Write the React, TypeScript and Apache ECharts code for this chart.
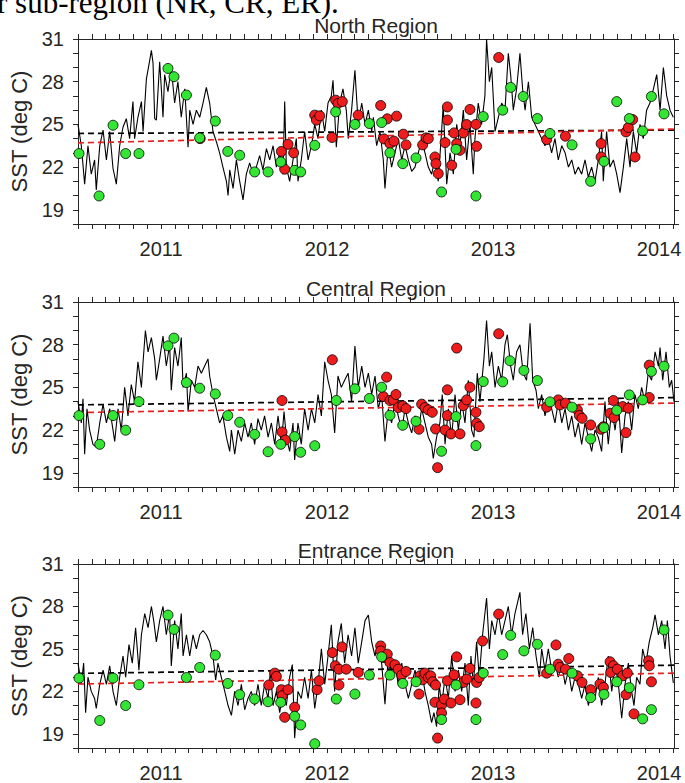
import React, { useEffect, useRef } from 'react';
import * as echarts from 'echarts';

type Pt = [number, number];

const yearLabels = [2011, 2012, 2013, 2014];
const sstLabels = [19, 22, 25, 28, 31];
const panelTitles = ['North Region', 'Central Region', 'Entrance Region'];
const yAxisTitle = 'SST (deg C)';
const captionText = 'r sub-region (NR, CR, ER).';

// ---------- North Region ----------
const northLine: Pt[] = [
  [2010.500,25.0],[2010.520,23.5],[2010.540,20.8],[2010.560,23.5],[2010.580,21.5],[2010.600,22.5],[2010.610,20.4],[2010.631,23.5],[2010.651,24.6],[2010.671,22.5],[2010.691,24.5],[2010.711,21.9],[2010.731,20.8],[2010.751,23.5],[2010.771,24.8],[2010.791,25.4],[2010.811,24.0],[2010.831,26.6],[2010.841,24.0],[2010.861,25.5],[2010.882,26.6],[2010.892,24.5],[2010.912,28.2],[2010.932,29.5],[2010.942,30.2],[2010.952,29.3],[2010.962,25.4],[2010.972,25.3],[2010.992,29.4],[2011.002,27.5],[2011.012,25.5],[2011.022,28.5],[2011.042,27.3],[2011.062,29.0],[2011.082,26.5],[2011.102,28.0],[2011.122,25.5],[2011.143,27.5],[2011.163,23.4],[2011.173,26.0],[2011.193,25.0],[2011.213,26.0],[2011.233,25.5],[2011.253,26.5],[2011.273,27.6],[2011.293,26.5],[2011.313,24.5],[2011.333,23.8],[2011.353,23.0],[2011.373,22.0],[2011.394,21.0],[2011.404,20.0],[2011.414,21.8],[2011.434,20.5],[2011.454,22.5],[2011.474,21.0],[2011.494,19.7],[2011.514,21.5],[2011.534,22.3],[2011.554,21.5],[2011.574,22.0],[2011.594,22.8],[2011.614,21.8],[2011.635,23.3],[2011.655,22.5],[2011.675,23.5],[2011.695,22.0],[2011.715,23.0],[2011.735,21.5],[2011.745,26.6],[2011.755,22.0],[2011.775,21.0],[2011.795,22.5],[2011.815,24.0],[2011.825,21.0],[2011.845,22.5],[2011.865,24.5],[2011.886,22.5],[2011.906,23.5],[2011.926,25.0],[2011.946,24.0],[2011.966,26.0],[2011.986,24.5],[2012.006,26.5],[2012.026,27.0],[2012.036,28.1],[2012.056,23.4],[2012.076,26.5],[2012.096,27.5],[2012.116,26.0],
  [2012.128,24.0],[2012.148,26.0],[2012.168,28.8],[2012.188,25.0],[2012.209,26.5],[2012.229,25.0],[2012.249,26.0],[2012.269,24.5],[2012.279,25.5],[2012.299,23.5],[2012.319,24.5],[2012.339,22.5],[2012.349,20.5],[2012.369,23.5],[2012.389,22.0],[2012.409,23.0],[2012.429,24.0],[2012.450,22.5],[2012.470,23.5],[2012.490,22.5],[2012.510,21.7],[2012.530,22.0],[2012.550,23.0],[2012.570,24.0],[2012.590,23.0],[2012.610,22.0],[2012.630,21.5],[2012.650,22.5],[2012.670,21.0],[2012.690,24.5],[2012.700,26.3],[2012.721,20.8],[2012.741,23.0],[2012.761,21.5],[2012.781,25.0],[2012.801,23.5],[2012.821,26.0],[2012.841,22.5],[2012.861,25.0],[2012.881,21.5],[2012.891,24.0],[2012.911,26.5],[2012.931,25.0],[2012.951,27.0],[2012.961,31.0],[2012.978,28.0],[2012.992,29.0],[2013.012,24.5],[2013.032,25.5],[2013.052,26.5],[2013.072,26.0],[2013.092,30.0],[2013.106,28.5],[2013.122,26.0],[2013.142,27.5],[2013.162,30.0],[2013.178,27.5],[2013.193,26.0],[2013.213,28.0],[2013.233,25.5],[2013.253,25.0],[2013.273,24.5],[2013.293,24.0],[2013.313,23.5],[2013.333,24.0],[2013.353,23.0],[2013.373,24.0],[2013.393,22.5],[2013.414,23.5],[2013.434,23.0],[2013.454,22.0],[2013.474,22.5],[2013.494,21.5],[2013.514,22.0],[2013.534,21.5],[2013.554,22.5],[2013.574,21.3],[2013.594,22.0],[2013.614,21.0],[2013.634,22.5],[2013.654,24.5],[2013.664,21.0],[2013.684,24.5],[2013.704,22.0],[2013.725,22.5],[2013.745,21.5],[2013.765,20.2],[2013.785,22.0],[2013.805,24.0],[2013.825,22.0],[2013.845,24.5],[2013.865,23.0],[2013.885,25.0],[2013.905,24.0],[2013.925,26.0],[2013.945,26.5],[2013.966,27.5],[2013.986,28.5],[2014.006,26.0],[2014.026,29.0],[2014.046,27.0],[2014.066,26.0],[2014.086,25.5]
];
const northGreen: Pt[] = [
  [2010.506,22.95],[2010.627,19.97],[2010.711,24.94],[2010.787,22.95],[2010.867,22.95],[2011.042,28.93],[2011.078,28.35],[2011.153,27.06],[2011.233,24.05],[2011.327,25.23],[2011.402,23.1],[2011.474,22.83],[2011.564,21.66],[2011.645,21.66],[2011.721,22.36],[2011.805,21.77],[2011.841,21.66],[2011.926,23.53],[2012.052,25.88],
  [2012.168,25.0],[2012.255,25.06],[2012.329,25.13],[2012.379,23.0],[2012.456,22.24],[2012.536,22.64],[2012.690,20.25],[2012.777,23.25],[2012.897,19.97],[2012.941,25.55],[2013.058,26.0],[2013.106,27.6],[2013.182,26.96],[2013.267,25.41],[2013.343,24.36],[2013.476,23.56],[2013.588,21.0],[2013.668,22.4],[2013.745,26.6],[2013.821,25.41],[2013.901,24.54],[2013.954,26.96],[2014.030,25.74]
];
const northRed: Pt[] = [
  [2011.236,24.0],[2011.725,23.1],[2011.745,21.85],[2011.765,23.6],[2011.799,23.0],[2011.926,25.65],[2011.936,25.3],[2011.956,25.6],[2012.030,24.08],[2012.052,26.7],[2012.066,26.47],[2012.092,26.6],
  [2012.188,25.65],[2012.323,26.33],[2012.343,23.98],[2012.363,25.39],[2012.379,23.65],[2012.403,23.82],[2012.419,25.58],[2012.460,24.31],[2012.476,23.56],[2012.576,23.56],[2012.596,24.05],[2012.610,24.0],[2012.650,22.71],[2012.656,22.24],[2012.670,21.54],[2012.711,23.72],[2012.725,26.23],[2012.725,25.3],[2012.751,22.13],[2012.765,24.4],[2012.781,23.65],[2012.801,23.18],[2012.821,24.4],[2012.841,24.99],[2012.861,26.05],[2012.897,25.0],[2012.901,23.46],[2013.034,29.7],[2013.323,23.93],[2013.436,24.17],[2013.651,23.65],[2013.651,22.71],[2013.801,24.47],[2013.815,24.78],[2013.841,25.34],[2013.855,22.71]
];
const northTrendAll: Pt[] = [[2010.5, 24.36], [2014.09, 24.6]];
const northTrendRed: Pt[] = [[2010.5, 23.7], [2014.09, 24.67]];

// ---------- Central Region ----------
const centralLine: Pt[] = [
  [2010.500,24.0],[2010.520,22.5],[2010.530,24.2],[2010.540,20.3],[2010.554,23.5],[2010.570,22.0],[2010.590,21.0],[2010.610,20.8],[2010.631,22.5],[2010.651,23.8],[2010.671,22.5],[2010.691,23.5],[2010.711,22.0],[2010.721,21.2],[2010.741,23.5],[2010.761,22.0],[2010.781,25.0],[2010.801,23.0],[2010.821,25.2],[2010.841,24.0],[2010.861,26.8],[2010.882,25.0],[2010.892,26.8],[2010.906,29.0],[2010.922,27.5],[2010.942,28.5],[2010.962,27.0],[2010.972,25.5],[2010.992,27.0],[2011.012,28.6],[2011.032,26.5],[2011.052,28.0],[2011.062,24.8],[2011.082,27.8],[2011.102,26.5],[2011.122,28.5],[2011.133,25.0],[2011.153,26.0],[2011.163,23.3],[2011.183,25.5],[2011.203,25.0],[2011.223,26.5],[2011.243,26.0],[2011.263,26.5],[2011.283,27.0],[2011.293,25.8],[2011.313,24.5],[2011.333,23.5],[2011.353,22.5],[2011.373,23.0],[2011.394,21.5],[2011.414,20.5],[2011.424,22.0],[2011.444,20.3],[2011.464,22.0],[2011.484,21.2],[2011.504,22.5],[2011.524,21.5],[2011.544,22.5],[2011.564,21.0],[2011.584,22.8],[2011.604,22.0],[2011.624,23.0],[2011.645,21.5],[2011.665,22.5],[2011.685,21.0],[2011.705,23.0],[2011.725,21.0],[2011.741,23.3],[2011.755,21.5],[2011.775,20.5],[2011.795,22.5],[2011.805,19.9],[2011.825,22.5],[2011.845,21.0],[2011.865,23.5],[2011.886,22.0],[2011.906,23.5],[2011.926,22.5],[2011.946,24.5],[2011.966,23.0],[2011.986,26.8],[2012.006,25.5],[2012.026,24.5],[2012.046,21.8],[2012.066,25.8],[2012.086,25.0],[2012.106,25.5],[2012.127,26.0],
  [2012.148,24.0],[2012.168,27.9],[2012.188,25.0],[2012.209,26.5],[2012.229,25.0],[2012.249,26.0],[2012.269,24.5],[2012.289,25.8],[2012.309,23.5],[2012.329,24.5],[2012.349,21.2],[2012.369,23.5],[2012.389,22.5],[2012.409,24.0],[2012.429,23.0],[2012.450,22.0],[2012.470,23.5],[2012.490,22.5],[2012.510,21.8],[2012.530,23.0],[2012.550,22.0],[2012.570,23.5],[2012.590,22.5],[2012.610,21.5],[2012.630,21.0],[2012.640,20.0],[2012.660,21.5],[2012.680,22.5],[2012.694,24.5],[2012.711,21.0],[2012.731,23.5],[2012.751,21.5],[2012.771,24.5],[2012.791,22.0],[2012.811,24.0],[2012.831,22.5],[2012.851,25.5],[2012.871,22.0],[2012.885,21.5],[2012.905,26.0],[2012.921,24.0],[2012.945,27.0],[2012.961,29.7],[2012.978,26.5],[2012.992,27.5],[2013.012,25.0],[2013.032,26.5],[2013.052,25.5],[2013.072,28.0],[2013.086,28.7],[2013.106,26.5],[2013.122,25.5],[2013.142,27.5],[2013.162,28.0],[2013.182,26.0],[2013.202,25.5],[2013.223,29.5],[2013.239,25.5],[2013.259,24.8],[2013.273,23.5],[2013.293,24.5],[2013.313,23.0],[2013.333,24.0],[2013.353,23.5],[2013.373,22.5],[2013.393,24.0],[2013.414,22.5],[2013.434,23.5],[2013.454,22.0],[2013.474,23.0],[2013.494,21.5],[2013.514,22.5],[2013.534,21.0],[2013.554,22.5],[2013.574,21.5],[2013.594,20.5],[2013.614,22.0],[2013.634,21.5],[2013.654,20.5],[2013.674,24.0],[2013.694,21.0],[2013.715,23.5],[2013.735,22.0],[2013.755,24.0],[2013.775,20.4],[2013.795,23.0],[2013.815,24.0],[2013.835,22.0],[2013.855,24.5],[2013.875,23.5],[2013.895,25.0],[2013.915,24.0],[2013.935,26.0],[2013.955,25.5],[2013.976,27.5],[2013.996,26.5],[2014.006,27.8],[2014.022,25.5],[2014.042,27.5],[2014.062,25.0],[2014.076,25.5],[2014.090,24.0]
];
const centralGreen: Pt[] = [
  [2010.506,23.02],[2010.631,21.0],[2010.711,23.02],[2010.787,21.99],[2010.867,24.0],[2011.042,27.92],[2011.078,28.46],[2011.153,25.34],[2011.233,24.94],[2011.327,24.54],[2011.402,23.02],[2011.474,22.55],[2011.564,21.7],[2011.645,20.48],[2011.721,21.0],[2011.805,21.54],[2011.841,20.44],[2011.926,20.9],[2012.056,24.08],
  [2012.168,24.9],[2012.255,24.22],[2012.329,25.01],[2012.379,23.04],[2012.456,22.34],[2012.536,22.62],[2012.690,20.51],[2012.777,22.95],[2012.897,20.91],[2012.941,25.41],[2013.058,25.39],[2013.102,26.87],[2013.186,26.19],[2013.267,25.48],[2013.343,23.98],[2013.476,23.61],[2013.588,21.38],[2013.668,22.17],[2013.745,23.39],[2013.821,24.47],[2013.901,24.12],[2013.954,26.12],[2014.030,26.49]
];
const centralRed: Pt[] = [
  [2011.729,24.08],[2011.729,21.87],[2011.749,21.3],[2012.032,26.94],
  [2012.359,25.72],[2012.339,24.36],[2012.379,24.08],[2012.399,24.12],[2012.415,24.5],[2012.429,23.58],[2012.456,23.7],[2012.476,23.51],[2012.554,22.06],[2012.570,23.82],[2012.590,23.58],[2012.610,23.42],[2012.634,23.25],[2012.654,22.08],[2012.666,19.36],[2012.711,22.0],[2012.725,24.83],[2012.725,23.02],[2012.747,21.73],[2012.781,27.76],[2012.801,21.73],[2012.821,23.72],[2012.841,24.12],[2012.861,25.01],[2012.897,23.25],[2012.901,22.48],[2012.917,22.24],[2013.034,28.77],[2013.323,23.61],[2013.393,24.12],[2013.403,23.77],[2013.436,23.89],[2013.508,23.42],[2013.520,23.02],[2013.536,22.83],[2013.588,22.36],[2013.651,22.06],[2013.665,22.24],[2013.705,23.18],[2013.725,24.08],[2013.729,22.88],[2013.781,23.65],[2013.801,21.82],[2013.815,23.54],[2013.941,26.56],[2013.941,24.29]
];
const centralTrendAll: Pt[] = [[2010.5, 23.77], [2014.09, 24.28]];
const centralTrendRed: Pt[] = [[2010.5, 23.23], [2014.09, 23.9]];

// ---------- Entrance Region ----------
const entranceLine: Pt[] = [
  [2010.500,24.0],[2010.520,22.5],[2010.534,24.0],[2010.546,20.5],[2010.560,23.0],[2010.580,22.0],[2010.600,21.5],[2010.610,20.8],[2010.631,22.5],[2010.651,23.5],[2010.671,22.5],[2010.691,23.8],[2010.711,22.0],[2010.731,21.0],[2010.751,23.0],[2010.771,24.5],[2010.787,23.0],[2010.807,25.3],[2010.827,24.0],[2010.847,26.5],[2010.867,23.5],[2010.882,26.0],[2010.902,27.5],[2010.922,26.5],[2010.942,28.0],[2010.956,27.0],[2010.972,25.5],[2010.992,27.0],[2011.012,28.0],[2011.032,26.0],[2011.052,27.5],[2011.062,23.8],[2011.082,27.0],[2011.102,25.0],[2011.122,27.5],[2011.133,24.5],[2011.153,26.0],[2011.173,24.5],[2011.193,26.0],[2011.213,25.0],[2011.233,26.0],[2011.253,26.3],[2011.273,26.0],[2011.293,25.5],[2011.313,24.5],[2011.329,22.8],[2011.343,24.0],[2011.363,23.0],[2011.384,22.0],[2011.404,21.0],[2011.424,20.3],[2011.444,22.0],[2011.464,21.0],[2011.484,22.5],[2011.504,20.7],[2011.524,21.5],[2011.544,22.0],[2011.564,21.0],[2011.584,22.5],[2011.604,21.0],[2011.624,22.5],[2011.645,21.5],[2011.659,23.5],[2011.675,21.0],[2011.695,22.0],[2011.715,20.5],[2011.735,22.0],[2011.755,21.0],[2011.775,23.0],[2011.791,23.9],[2011.805,18.7],[2011.825,22.0],[2011.845,21.5],[2011.865,23.0],[2011.886,21.5],[2011.906,23.5],[2011.926,20.8],[2011.946,22.5],[2011.966,25.0],[2011.986,22.5],[2012.006,24.5],[2012.026,26.7],[2012.046,22.0],[2012.066,25.5],[2012.086,26.8],[2012.106,24.0],[2012.127,26.0],
  [2012.148,24.5],[2012.168,26.5],[2012.188,24.0],[2012.209,25.5],[2012.229,27.0],[2012.249,27.4],[2012.269,25.5],[2012.289,24.5],[2012.309,25.5],[2012.329,24.0],[2012.349,21.1],[2012.369,24.5],[2012.389,23.0],[2012.409,24.0],[2012.429,22.5],[2012.450,24.0],[2012.470,22.5],[2012.490,21.5],[2012.510,22.5],[2012.530,23.5],[2012.550,22.5],[2012.570,23.5],[2012.590,22.0],[2012.610,21.0],[2012.630,19.8],[2012.644,20.5],[2012.660,19.5],[2012.676,22.5],[2012.690,21.0],[2012.711,23.0],[2012.731,21.5],[2012.751,24.5],[2012.771,22.0],[2012.791,23.5],[2012.811,22.0],[2012.831,24.0],[2012.851,21.0],[2012.867,24.5],[2012.881,22.5],[2012.901,25.5],[2012.917,23.0],[2012.937,26.0],[2012.961,28.6],[2012.978,25.0],[2012.992,27.0],[2013.012,26.0],[2013.032,27.5],[2013.052,26.0],[2013.072,27.0],[2013.092,28.0],[2013.112,26.0],[2013.132,27.5],[2013.162,29.0],[2013.178,26.0],[2013.198,27.5],[2013.219,25.0],[2013.239,26.5],[2013.259,24.5],[2013.279,23.0],[2013.293,25.0],[2013.313,23.5],[2013.333,25.0],[2013.353,23.5],[2013.373,24.0],[2013.393,23.0],[2013.414,24.0],[2013.434,22.5],[2013.454,23.5],[2013.474,22.0],[2013.494,23.0],[2013.514,22.5],[2013.534,21.5],[2013.554,22.5],[2013.574,21.0],[2013.594,22.0],[2013.614,21.5],[2013.634,23.0],[2013.654,21.0],[2013.674,22.5],[2013.694,24.5],[2013.715,22.0],[2013.735,24.0],[2013.755,22.5],[2013.775,20.1],[2013.795,22.5],[2013.815,24.0],[2013.835,22.0],[2013.849,21.0],[2013.865,23.0],[2013.885,22.5],[2013.901,25.0],[2013.921,24.0],[2013.941,25.5],[2013.962,26.5],[2013.976,27.4],[2013.996,26.0],[2014.016,27.0],[2014.036,25.0],[2014.050,27.0],[2014.066,24.5],[2014.086,22.6]
];
const entranceGreen: Pt[] = [
  [2010.506,22.94],[2010.631,19.94],[2010.711,22.94],[2010.787,21.0],[2010.867,22.47],[2011.042,27.39],[2011.078,26.38],[2011.153,22.98],[2011.233,23.69],[2011.327,24.56],[2011.402,22.56],[2011.474,21.77],[2011.564,21.46],[2011.645,21.27],[2011.721,21.23],[2011.805,20.24],[2011.841,19.63],[2011.926,18.3],[2012.056,21.46],
  [2012.168,21.81],[2012.255,23.15],[2012.329,24.44],[2012.379,23.15],[2012.456,22.56],[2012.536,22.68],[2012.690,20.01],[2012.777,22.45],[2012.897,20.01],[2012.941,23.29],[2013.058,24.6],[2013.106,25.96],[2013.186,24.86],[2013.267,25.33],[2013.343,23.57],[2013.476,23.29],[2013.588,21.56],[2013.668,21.79],[2013.745,22.68],[2013.821,22.26],[2013.901,20.06],[2013.954,20.71],[2014.030,26.34]
];
const entranceRed: Pt[] = [
  [2011.649,22.45],[2011.685,23.29],[2011.695,23.06],[2011.725,22.12],[2011.731,21.7],[2011.745,20.17],[2011.765,22.12],[2011.805,20.88],[2011.940,22.12],[2011.952,22.75],[2012.032,24.74],[2012.050,23.81],[2012.072,23.57],[2012.072,22.45],[2012.090,25.14],[2012.116,23.57],
  [2012.188,23.34],[2012.323,25.21],[2012.323,24.86],[2012.343,24.39],[2012.363,24.63],[2012.379,24.04],[2012.409,23.88],[2012.429,23.57],[2012.450,23.15],[2012.476,23.41],[2012.554,21.81],[2012.560,23.1],[2012.576,22.82],[2012.590,23.29],[2012.610,22.98],[2012.624,23.1],[2012.636,22.68],[2012.654,22.45],[2012.650,21.23],[2012.690,21.04],[2012.690,20.48],[2012.666,18.7],[2012.707,21.46],[2012.725,22.75],[2012.747,21.18],[2012.765,23.17],[2012.781,24.44],[2012.801,21.41],[2012.821,22.63],[2012.841,22.87],[2012.861,23.62],[2012.897,21.18],[2012.901,22.63],[2012.917,22.98],[2012.937,25.56],[2013.034,27.46],[2013.323,23.29],[2013.379,25.28],[2013.393,23.92],[2013.403,23.69],[2013.436,23.57],[2013.456,24.32],[2013.508,23.1],[2013.536,22.63],[2013.588,22.12],[2013.644,22.52],[2013.665,22.28],[2013.705,24.09],[2013.725,23.81],[2013.709,23.34],[2013.749,23.57],[2013.781,23.1],[2013.809,23.29],[2013.801,21.77],[2013.849,20.41],[2013.937,24.16],[2013.941,23.81],[2013.954,22.68]
];
const entranceTrendAll: Pt[] = [[2010.5, 23.27], [2014.09, 23.85]];
const entranceTrendRed: Pt[] = [[2010.5, 22.52], [2014.09, 23.29]];

const panels = [
  { line: northLine, green: northGreen, red: northRed, trendAll: northTrendAll, trendRed: northTrendRed },
  { line: centralLine, green: centralGreen, red: centralRed, trendAll: centralTrendAll, trendRed: centralTrendRed },
  { line: entranceLine, green: entranceGreen, red: entranceRed, trendAll: entranceTrendAll, trendRed: entranceTrendRed },
];

const X_MIN = 2010.5;
const X_MAX = 2014.09;
const Y_MIN = 18;
const Y_MAX = 31;
const GRID_TOPS = [39, 302, 564];
const GRID_LEFT = 78;
const GRID_W = 596;
const GRID_H = 185;
const TEXT = '#262626';
const FONT = 'Liberation Sans, Arial, Helvetica, sans-serif';

export default function App() {
  const ref = useRef<HTMLDivElement>(null);
  useEffect(() => {
    if (!ref.current) return;
    const chart = echarts.init(ref.current, undefined, { renderer: 'svg' });
    const monthTicks: number[] = [];
    for (let k = 0; k * (1 / 12) + X_MIN <= X_MAX + 1e-9; k++) monthTicks.push(X_MIN + k / 12);
    const yTicks: number[] = [];
    for (let v = Y_MIN; v <= Y_MAX; v++) yTicks.push(v);

    const axisLine = { show: true, onZero: false, lineStyle: { color: TEXT, width: 1 } };
    const grids: any[] = [];
    const xAxes: any[] = [];
    const yAxes: any[] = [];
    const series: any[] = [];
    const graphics: any[] = [];

    panels.forEach((p, i) => {
      grids.push({ left: GRID_LEFT, top: GRID_TOPS[i], width: GRID_W, height: GRID_H, containLabel: false });
      const xBase = {
        type: 'value', gridIndex: i, min: X_MIN, max: X_MAX, axisLine,
        splitLine: { show: false },
        axisTick: { show: true, inside: false, length: 5, customValues: monthTicks, lineStyle: { color: TEXT, width: 1 } },
      };
      xAxes.push({ ...xBase, position: 'bottom',
        axisLabel: { show: true, customValues: yearLabels, margin: 15, fontSize: 20, color: TEXT, fontFamily: FONT, formatter: (v: number) => String(Math.round(v)) } });
      xAxes.push({ ...xBase, position: 'top', axisLabel: { show: false } });
      const yBase = {
        type: 'value', gridIndex: i, min: Y_MIN, max: Y_MAX, interval: 1, axisLine,
        splitLine: { show: false },
        axisTick: { show: true, inside: false, length: 5, customValues: yTicks, lineStyle: { color: TEXT, width: 1 } },
      };
      yAxes.push({ ...yBase, position: 'left',
        axisLabel: { show: true, customValues: sstLabels, margin: 14, fontSize: 20, color: TEXT, fontFamily: FONT },
        name: yAxisTitle, nameLocation: 'middle', nameGap: 41, nameRotate: 90,
        nameTextStyle: { fontSize: 22, color: TEXT, fontFamily: FONT } });
      yAxes.push({ ...yBase, position: 'right', axisLabel: { show: false } });

      const xi = i * 2, yi = i * 2;
      series.push({ type: 'line', xAxisIndex: xi, yAxisIndex: yi, data: p.line, showSymbol: false, symbol: 'none',
        lineStyle: { color: '#000', width: 1.1 }, z: 2, silent: true });
      series.push({ type: 'line', xAxisIndex: xi, yAxisIndex: yi, data: p.trendAll, showSymbol: false, symbol: 'none',
        lineStyle: { color: '#000', width: 1.7, type: [6, 4] }, z: 3, silent: true });
      series.push({ type: 'line', xAxisIndex: xi, yAxisIndex: yi, data: p.trendRed, showSymbol: false, symbol: 'none',
        lineStyle: { color: '#e8201c', width: 1.7, type: [6, 4] }, z: 3, silent: true });
      series.push({ type: 'scatter', xAxisIndex: xi, yAxisIndex: yi, data: p.red, symbol: 'circle', symbolSize: 10,
        itemStyle: { color: '#ee1c1c', borderColor: '#000', borderWidth: 0.8, opacity: 1 }, z: 4, silent: true });
      series.push({ type: 'scatter', xAxisIndex: xi, yAxisIndex: yi, data: p.green, symbol: 'circle', symbolSize: 10,
        itemStyle: { color: '#33e633', borderColor: '#000', borderWidth: 0.8, opacity: 1 }, z: 5, silent: true });

      graphics.push({ type: 'text', x: GRID_LEFT + GRID_W / 2, y: GRID_TOPS[i] - 3, z: 10,
        style: { text: panelTitles[i], font: `21px ${FONT}`, fill: TEXT,
          align: 'center', verticalAlign: 'bottom', textAlign: 'center', textVerticalAlign: 'bottom' } });
    });

    graphics.push({ type: 'text', x: -3, y: 2, z: 10,
      style: { text: captionText, font: '31px "Liberation Serif", "Times New Roman", serif', fill: '#000',
        align: 'left', verticalAlign: 'middle', textAlign: 'left', textVerticalAlign: 'middle' } });

    chart.setOption({
      animation: false,
      backgroundColor: '#fff',
      grid: grids,
      xAxis: xAxes,
      yAxis: yAxes,
      series,
      graphic: graphics,
    });
    return () => chart.dispose();
  }, []);
  return <div ref={ref} style={{ position: 'fixed', left: 0, top: 0, width: 685, height: 783 }} />;
}
